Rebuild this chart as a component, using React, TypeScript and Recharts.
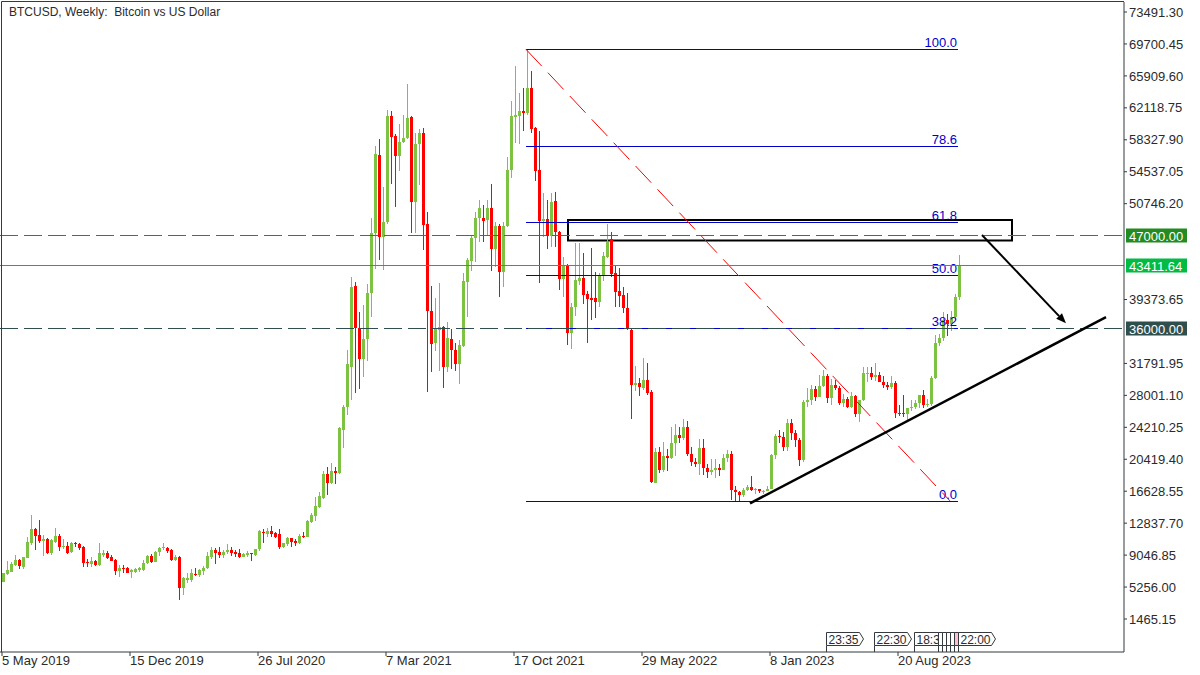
import React from 'react';
import { ComposedChart, Bar, XAxis, YAxis, ReferenceLine, ReferenceArea } from 'recharts';

const FONT = '"Liberation Sans", Arial, sans-serif';
const TEXT = '#2b2b2b';
const AXIS = '#353a40';
const UP = '#7dc242';
const DOWN = '#ff0000';
const FIB = '#0000cd';

// weekly candles, 5 May 2019 .. 3 Dec 2023 (one row = 10 weeks)
const OPEN = [
  5900, 6800, 7080, 7870, 8470, 7680, 8740, 10520, 12180, 11430,
  10720, 11000, 9260, 10640, 11310, 9970, 10130, 9460, 10520, 10360,
  10050, 8270, 7990, 8390, 7870, 9060, 9340, 8860, 8470, 7200,
  7560, 7560, 7080, 7080, 7280, 7280, 8070, 8980, 8270, 9460,
  9890, 9930, 9650, 8470, 8860, 5180, 6100, 6090, 6800, 6690,
  7200, 7480, 8860, 9650, 9380, 9060, 9380, 9650, 9460, 9340,
  8860, 9060, 9260, 9060, 9730, 11830, 11550, 11950, 11710, 11550,
  9970, 10360, 11040, 10760, 10520, 11310, 11230, 13020, 13690, 14800,
  15780, 18670, 17640, 19070, 18750, 23890, 26660, 31410, 40980, 35960,
  32320, 34650, 40110, 47230, 56520, 46830, 48530, 61150, 58780, 56400,
  58110, 58500, 60990, 50990, 57830, 59170, 48340, 38050, 34260, 35760,
  36150, 31330, 34650, 33390, 31720, 33860, 41490, 43990, 46640, 49010,
  49010, 48810, 50190, 45330, 48100, 42680, 48100, 54740, 61070, 61150,
  61740, 61470, 64430, 59690, 54740, 48730, 48930, 46950, 51060, 47350,
  41770, 43470, 35360, 38530, 41610, 41890, 40030, 39590, 39520, 39120,
  42280, 44460, 46520, 42480, 40430, 39910, 38330, 35760, 29230, 29510,
  28840, 29820, 28440, 17640, 21320, 19150, 20800, 20600, 22400, 23300,
  23000, 24300, 21100, 20100, 19800, 21800, 19400, 18900, 19200, 19400,
  19200, 20600, 21000, 16800, 16500, 16200, 16800, 17100, 16800, 16850,
  16600, 16700, 16950, 20900, 23180, 23100, 21900, 24680, 23500, 22700,
  20300, 27250, 27450, 28720, 27850, 29110, 30300, 27650, 29230, 28840,
  27060, 27530, 26660, 27930, 25790, 27450, 30620, 30700, 30220, 30400,
  29630, 29200, 28950, 29450, 25950, 25870, 25800, 26460, 26660, 27130,
  28000, 26860, 27000, 30020, 34200, 34800, 37000, 36500, 37300, 39700,
];
const HIGH = [
  6960, 8350, 8230, 9060, 8580, 8860, 11230, 13800, 12300, 13210,
  11430, 11120, 10960, 12300, 11590, 10960, 10640, 10640, 10640, 10520,
  10130, 8540, 8860, 8470, 10520, 9650, 9530, 9060, 8580, 7870,
  7870, 7600, 7400, 7480, 7600, 8470, 9060, 9180, 9530, 10050,
  10440, 10050, 9730, 9060, 8980, 6410, 6880, 7360, 7480, 7400,
  7750, 9380, 10050, 9850, 9970, 9650, 10360, 9970, 9650, 9730,
  9260, 9530, 9340, 9810, 12000, 12140, 12220, 12500, 11830, 12100,
  10520, 11230, 11100, 10920, 11550, 11830, 13210, 14000, 15980, 16570,
  19070, 19460, 20020, 19540, 24210, 26800, 33380, 42010, 41490, 37930,
  38720, 41220, 49010, 57590, 58420, 52770, 61860, 61740, 59010, 60200,
  61270, 64950, 61150, 59090, 59570, 59690, 49800, 40980, 39520, 41370,
  36230, 36750, 35840, 34180, 34570, 42560, 44260, 46910, 49800, 51180,
  50590, 51180, 53080, 48610, 48300, 48610, 56250, 62970, 67080, 63920,
  64430, 69060, 66490, 59810, 59410, 51970, 51180, 51970, 52090, 47510,
  44460, 43590, 39000, 46040, 46040, 44940, 40430, 45450, 42680, 42560,
  45050, 48340, 47430, 43470, 43080, 40900, 40110, 35900, 31490, 30020,
  32400, 31800, 28600, 21800, 21900, 22500, 21600, 24200, 24600, 24200,
  25200, 25000, 21900, 20600, 22800, 22800, 19900, 20400, 20400, 19900,
  21000, 21500, 21400, 17200, 16700, 17000, 17400, 18400, 17000, 16950,
  16800, 17200, 21000, 23400, 23900, 23700, 25200, 25200, 23900, 22900,
  27500, 28900, 29200, 29100, 30400, 31000, 30500, 30000, 29800, 29100,
  28200, 27800, 28400, 28000, 27500, 31400, 31400, 31400, 31800, 30800,
  30300, 29600, 30300, 29700, 26800, 28100, 26400, 27400, 27400, 28000,
  28600, 27600, 30300, 35200, 35300, 37900, 37600, 38000, 40000, 44600,
];
const LOW = [
  5850, 6690, 7000, 7750, 7400, 7440, 8660, 10250, 9650, 10500,
  8980, 9180, 9100, 10520, 9530, 9730, 9180, 9340, 10050, 9650,
  7680, 7680, 7680, 7750, 7750, 8860, 8580, 8350, 6690, 6490,
  6960, 6900, 6370, 6960, 7080, 7200, 7950, 8150, 8200, 8980,
  9650, 9340, 8350, 8350, 3720, 4310, 5700, 5900, 6570, 6410,
  6690, 7360, 8540, 7990, 8740, 8660, 9180, 8940, 8860, 8740,
  8800, 8860, 8390, 8940, 9530, 10520, 11160, 11230, 11040, 9730,
  9850, 10130, 9970, 10130, 10360, 11120, 11160, 12820, 13130, 14600,
  15660, 16180, 17480, 17480, 18700, 21720, 25670, 27450, 28240, 28720,
  30220, 32120, 37340, 42960, 44060, 42880, 48340, 53080, 50390, 54620,
  57990, 58380, 47230, 47230, 52960, 45250, 28440, 30810, 33310, 30930,
  28840, 30810, 31090, 30930, 29350, 33780, 37260, 42800, 43870, 46240,
  46240, 47030, 42800, 43270, 39710, 40820, 48020, 53750, 58000, 57830,
  59410, 61270, 59170, 53480, 41370, 46750, 45370, 45570, 45570, 40500,
  39630, 33980, 33460, 37420, 41100, 38840, 34260, 36940, 37140, 38530,
  41610, 44260, 42090, 38530, 38530, 37740, 35760, 25160, 28560, 27930,
  28640, 28050, 17560, 17560, 18800, 18900, 19000, 20400, 20800, 22400,
  22700, 20800, 19600, 19500, 18500, 18600, 18200, 18500, 18200, 18400,
  19100, 20100, 15600, 15500, 15500, 16000, 16600, 16700, 16300, 16450,
  16300, 16600, 16900, 20500, 22400, 21400, 21400, 22700, 21900, 19600,
  20100, 26600, 26900, 27300, 27800, 29000, 27100, 26900, 28600, 26800,
  26600, 26500, 26500, 25400, 24900, 27300, 29600, 29800, 29700, 29600,
  28900, 28600, 28800, 25300, 25600, 25400, 24900, 26100, 26400, 26500,
  26500, 26600, 26700, 29900, 33900, 34500, 35000, 35600, 37000, 39300,
];
const CLOSE = [
  6880, 7280, 7990, 8470, 7750, 8780, 10640, 12100, 11310, 10720,
  10960, 9260, 10840, 11310, 10050, 10130, 9340, 10520, 10400, 9930,
  8150, 8070, 8350, 7870, 9260, 9340, 8660, 8390, 7200, 7560,
  7400, 6960, 7280, 7360, 7480, 8150, 8980, 8270, 9460, 9930,
  10050, 9530, 8470, 8860, 5180, 6290, 6360, 6880, 6690, 7280,
  7480, 8940, 9650, 9260, 9060, 9380, 9650, 9260, 9180, 8860,
  9180, 9260, 9180, 9730, 11950, 11630, 11950, 11550, 11230, 9970,
  10440, 11040, 10640, 10520, 11310, 11230, 13090, 13800, 14880, 16060,
  18670, 17640, 19070, 18750, 24090, 26660, 31720, 40820, 35960, 32320,
  34650, 40110, 47230, 56640, 46830, 48530, 61150, 58700, 56400, 58110,
  58500, 60870, 50990, 57830, 59170, 48220, 38050, 34100, 35840, 36070,
  31330, 34770, 33390, 31720, 33980, 41610, 44060, 46640, 49010, 50190,
  48730, 50190, 45330, 48100, 42680, 48100, 54740, 61150, 61270, 61780,
  61470, 64430, 59610, 54660, 48730, 48930, 46950, 50990, 47350, 41770,
  43350, 35360, 38530, 41690, 41890, 39910, 39400, 39320, 39120, 42280,
  44540, 46240, 42400, 40310, 39790, 38330, 35840, 29230, 29510, 29030,
  29820, 28240, 17760, 21320, 19150, 20800, 20600, 22400, 23300, 23000,
  24300, 21100, 20100, 19800, 21800, 19400, 18900, 19200, 19400, 19200,
  20600, 21000, 16800, 16500, 16200, 16800, 17100, 16800, 16850, 16600,
  16700, 16950, 20900, 23180, 23020, 21900, 24680, 23500, 22700, 20300,
  27250, 27450, 28720, 27850, 29110, 30300, 27650, 29230, 28840, 27060,
  27530, 26660, 27930, 25790, 27450, 30620, 30700, 30220, 30400, 29630,
  29200, 28950, 29450, 25950, 25870, 25800, 26460, 26660, 27130, 28000,
  26860, 27000, 30020, 34200, 34800, 37000, 36500, 37300, 39700, 43411.64,
];

const SLOTS = 281; // 240 weeks + empty space on the right
const DATE_TICKS = [0, 32, 64, 96, 128, 160, 192, 224];
const DATE_LABELS = ['5 May 2019', '15 Dec 2019', '26 Jul 2020', '7 Mar 2021', '17 Oct 2021', '29 May 2022', '8 Jan 2023', '20 Aug 2023'];
const PRICE_TICKS = [
  73491.3, 69700.45, 65909.6, 62118.75, 58327.9, 54537.05, 50746.2, 39373.65,
  31791.95, 28001.1, 24210.25, 20419.4, 16628.55, 12837.7, 9046.85, 5256.0, 1465.15,
];
const Y_MIN = -2450.5;
const Y_MAX = 74677.9;

// fibonacci retracement
const FIB_LEVELS = [0, 38.2, 50, 61.8, 78.6, 100];
const FIB_LOW = 15480;
const FIB_HIGH = 69060;
const FIB_FROM = 131;
const FIB_TO = 239;
const FIB_DIAG_END = 237;

// drawn objects
const LEVEL_47K = 47000;
const LEVEL_36K = 36000;
const LAST_PRICE = 43411.64;
const ZONE = { x1: 142, x2: 252, y1: 46380, y2: 48810 };
const TREND = [{ x: 187, y: 15190 }, { x: 276, y: 37280 }];
const ARROW = [{ x: 245, y: 47030 }, { x: 266, y: 36550 }];
const EVENT_SLOTS = [206, 218, 228, 234, 235, 236, 237, 238, 239];
const EVENT_TIMES = ['23:35', '22:30', '18:30', '', '', '', '', '', '22:00'];

const data = Array.from({ length: SLOTS }, (_, i) =>
  i < OPEN.length
    ? { i, range: [LOW[i], HIGH[i]], o: OPEN[i], h: HIGH[i], l: LOW[i], c: CLOSE[i] }
    : { i, range: null }
);

const Candle = (props: any) => {
  const { x, y, width, height, payload } = props;
  if (!payload || payload.o == null) return null;
  const { o, h, l, c } = payload;
  const cx = Math.round(x + width / 2);
  const span = h - l || 1;
  const py = (v: number) => y + ((h - v) / span) * height;
  const color = c >= o ? UP : DOWN;
  const top = Math.round(py(Math.max(o, c)));
  const bot = Math.round(py(Math.min(o, c)));
  return (
    <g>
      <line x1={cx + 0.5} x2={cx + 0.5} y1={Math.round(y)} y2={Math.round(y + height)} stroke={color} strokeWidth={1} />
      <rect x={cx - 1} y={top} width={3} height={Math.max(1, bot - top)} fill={color} />
    </g>
  );
};

const DateTick = (props: any) => {
  const { x, y, payload } = props;
  const idx = DATE_TICKS.indexOf(payload.value);
  return (
    <text x={x} y={y + 7} fill={TEXT} fontSize={13} fontFamily={FONT}>
      {DATE_LABELS[idx]}
    </text>
  );
};

const priceLine = (color: string, dash: string | undefined, label: string) => (p: any) => {
  const y = Math.round(p.y1) + 0.5;
  const left = Math.min(p.x1, p.x2);
  const right = Math.max(p.x1, p.x2);
  return (
    <g>
      <line x1={left} y1={y} x2={right} y2={y} stroke={color} strokeWidth={1} strokeDasharray={dash} />
      <rect x={right + 2} y={y - 7} width={61} height={14} fill={color} />
      <text x={right + 5} y={y + 5} fill="#ffffff" fontSize={13} fontFamily={FONT}>{label}</text>
    </g>
  );
};

const fibShape = (label: string) => (p: any) => {
  const y = Math.round(p.y1) + 0.5;
  const left = Math.min(p.x1, p.x2);
  const right = Math.max(p.x1, p.x2);
  return (
    <g>
      <line x1={left} y1={y} x2={right} y2={y} stroke={FIB} strokeWidth={1} />
      <text x={right - 1} y={y - 3} textAnchor="end" fill={FIB} fontSize={13} fontFamily={FONT}>{label}</text>
    </g>
  );
};

const arrowShape = (p: any) => {
  const { x1, y1, x2, y2 } = p;
  const a = Math.atan2(y2 - y1, x2 - x1);
  const len = 10;
  const half = 4;
  const bx = x2 - len * Math.cos(a);
  const by = y2 - len * Math.sin(a);
  const nx = -Math.sin(a) * half;
  const ny = Math.cos(a) * half;
  return (
    <g>
      <line x1={x1} y1={y1} x2={bx} y2={by} stroke="#000" strokeWidth={2} />
      <polygon points={`${x2},${y2} ${bx + nx},${by + ny} ${bx - nx},${by - ny}`} fill="#000" />
    </g>
  );
};

const eventShape = (label: string, fill: string) => (p: any) => {
  const x = Math.round(p.x1) + 0.5;
  const b = Math.round(Math.max(p.y1, p.y2));
  const top = b - 19.5;
  const bot = b - 6.5;
  return (
    <g>
      <line x1={x} y1={bot} x2={x} y2={b} stroke={AXIS} strokeWidth={1} />
      <path d={`M${x},${top} H${x + 33} L${x + 37},${(top + bot) / 2} L${x + 33},${bot} H${x} Z`} fill={fill} stroke={AXIS} strokeWidth={1} />
      <text x={x + 2} y={bot - 2} fill={TEXT} fontSize={12} fontFamily={FONT}>{label}</text>
    </g>
  );
};

export default function App() {
  return (
    <div style={{ position: 'absolute', left: 0, top: 0, width: 1200, height: 675, background: '#fff' }}>
      <ComposedChart width={1200} height={675} data={data} margin={{ top: 2, right: 0, bottom: 0, left: 0 }}>
        <XAxis
          dataKey="i"
          type="category"
          ticks={DATE_TICKS}
          interval={0}
          height={23}
          tickSize={4}
          tickMargin={2}
          axisLine={{ stroke: AXIS }}
          tickLine={{ stroke: AXIS }}
          tick={<DateTick />}
        />
        <YAxis
          orientation="right"
          width={76}
          domain={[Y_MIN, Y_MAX]}
          allowDataOverflow
          ticks={PRICE_TICKS}
          interval={0}
          tickSize={3}
          tickMargin={2}
          axisLine={{ stroke: AXIS }}
          tickLine={{ stroke: AXIS }}
          tick={{ fill: TEXT, fontSize: 13, fontFamily: FONT }}
          tickFormatter={(v: number) => v.toFixed(2)}
        />
        {FIB_LEVELS.map((lv) => {
          const price = FIB_LOW + (lv / 100) * (FIB_HIGH - FIB_LOW);
          return (
            <ReferenceLine
              key={lv}
              segment={[{ x: FIB_FROM, y: price }, { x: FIB_TO, y: price }]}
              shape={fibShape(lv.toFixed(1))}
            />
          );
        })}
        <ReferenceLine
          segment={[{ x: FIB_FROM, y: FIB_HIGH }, { x: FIB_DIAG_END, y: FIB_LOW }]}
          stroke={DOWN}
          strokeWidth={1}
          strokeDasharray="23 9"
        />
        <ReferenceLine y={LEVEL_36K} shape={priceLine('#2f4f4f', '18 6', '36000.00')} />
        <ReferenceLine y={LEVEL_47K} shape={priceLine('#228b22', '18 6', '47000.00')} />
        <ReferenceLine y={LAST_PRICE} shape={priceLine('#00bb44', undefined, LAST_PRICE.toFixed(2))} />
        <ReferenceArea x1={ZONE.x1} x2={ZONE.x2} y1={ZONE.y1} y2={ZONE.y2} fill="none" stroke="#000" strokeWidth={2} />
        <ReferenceLine segment={TREND} stroke="#000" strokeWidth={2.5} />
        <ReferenceLine segment={ARROW} shape={arrowShape} />
        {EVENT_SLOTS.map((s, k) => (
          <ReferenceLine key={s} x={s} shape={eventShape(EVENT_TIMES[k], k === 7 ? '#ffc0cb' : '#ffffff')} />
        ))}
        <Bar dataKey="range" barSize={3} shape={<Candle />} isAnimationActive={false} />
      </ComposedChart>
      <svg width={1200} height={675} style={{ position: 'absolute', left: 0, top: 0, pointerEvents: 'none' }}>
        <line x1={1.5} y1={1.5} x2={1124} y2={1.5} stroke={AXIS} strokeWidth={1} />
        <line x1={1.5} y1={1.5} x2={1.5} y2={652} stroke={AXIS} strokeWidth={1} />
        <text x={9} y={16} fill={TEXT} fontSize={12} fontFamily={FONT} style={{ whiteSpace: 'pre' }}>
          {'BTCUSD, Weekly:  Bitcoin vs US Dollar'}
        </text>
      </svg>
    </div>
  );
}
